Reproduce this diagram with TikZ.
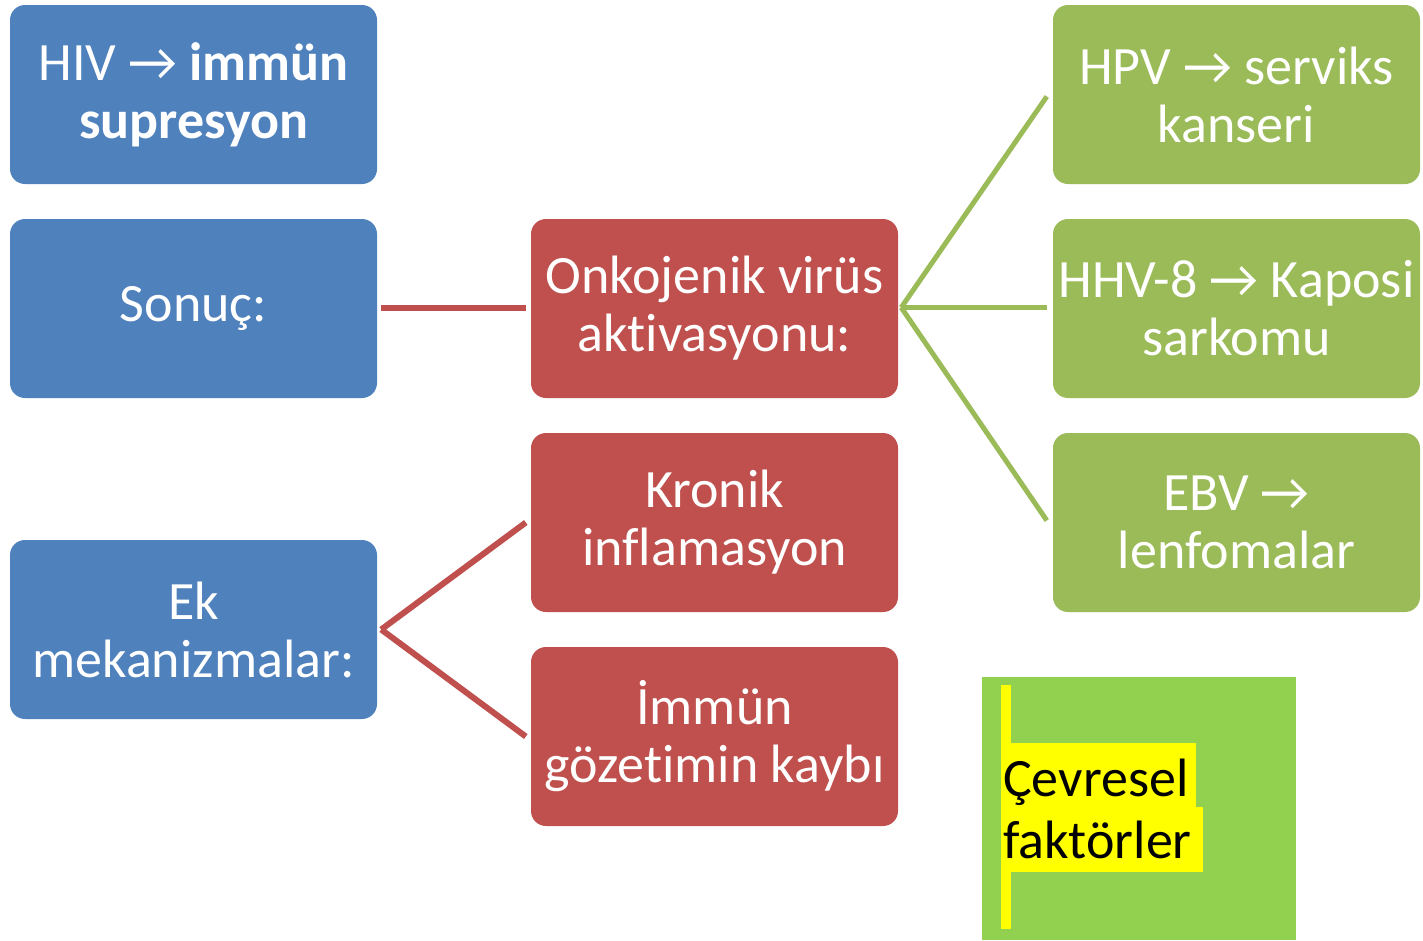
\documentclass[tikz,border=0pt]{standalone}
\usepackage{fontspec}
\setmainfont{Carlito}[Ligatures=NoCommon]
\usetikzlibrary{calc}
\definecolor{cblue}{HTML}{4F81BD}
\definecolor{cred}{HTML}{C0504D}
\definecolor{cgreen}{HTML}{9BBB59}
\definecolor{lgreen}{HTML}{92D050}
\definecolor{hyellow}{HTML}{FFFF00}
\tikzset{
  box/.style={rounded corners=15pt, minimum width=367pt, minimum height=179pt, text=white, align=center, inner sep=0pt, font=\fontsize{54}{58}\selectfont},
  bluebox/.style={box, fill=cblue},
  redbox/.style={box, fill=cred},
  greenbox/.style={box, fill=cgreen},
  redline/.style={draw=cred, line width=6pt},
  greenline/.style={draw=cgreen, line width=5pt},
}
\begin{document}
\begin{tikzpicture}[x=1pt,y=-1pt]
\useasboundingbox (0,0) rectangle (1423,940);
\node[bluebox] (b1) at (193.5,94.5) {HIV → \textbf{immün}\\\textbf{supresyon}};
\node[bluebox] (b2) at (193.5,308.5) {Sonuç:};
\node[bluebox] (b3) at (193.5,629.5) {Ek\\mekanizmalar:};
\node[redbox] (r1) at (714.5,308.5) {Onkojenik virüs\\aktivasyonu:};
\node[redbox] (r2) at (714.5,522.5) {Kronik\\inflamasyon};
\node[redbox] (r3) at (714.5,736.5) {İmmün\\gözetimin kaybı};
\node[greenbox] (g1) at (1236.5,94.5) {HPV → serviks\\kanseri};
\node[greenbox] (g2) at (1236.5,308.5) {HHV-8 → Kaposi\\sarkomu};
\node[greenbox] (g3) at (1236.5,522.5) {EBV →\\lenfomalar};
\draw[redline] ($(b2.east)+(4,-1)$) -- ($(r1.west)+(-5,-1)$);
\draw[redline] ($(b3.east)+(4,0)$) coordinate (fk) -- ($(r2.west)+(-5,0)$);
\draw[redline] (fk) -- ($(r3.west)+(-5,0)$);
\draw[greenline] ($(r1.east)+(3,-1)$) coordinate (gk) -- ($(g1.west)+(-6,2)$);
\draw[greenline] (gk) -- ($(g2.west)+(-6,-1)$);
\draw[greenline] (gk) -- ($(g3.west)+(-6,-2)$);
\node[fill=lgreen, minimum width=314pt, minimum height=263pt, inner sep=0pt] (env) at (1139,808.5) {};
\fill[hyellow] (1001,743) rectangle (1196,807);
\fill[hyellow] (1001,807) rectangle (1203,872);
\fill[hyellow] (1001,685) rectangle (1011,929);
\node[anchor=base west, inner sep=0pt, font=\fontsize{54}{58}\selectfont] (t1) at (1003,796) {Çevresel};
\node[anchor=base west, inner sep=0pt, font=\fontsize{54}{58}\selectfont] (t2) at (1003,858) {faktörler};
\end{tikzpicture}
\end{document}
